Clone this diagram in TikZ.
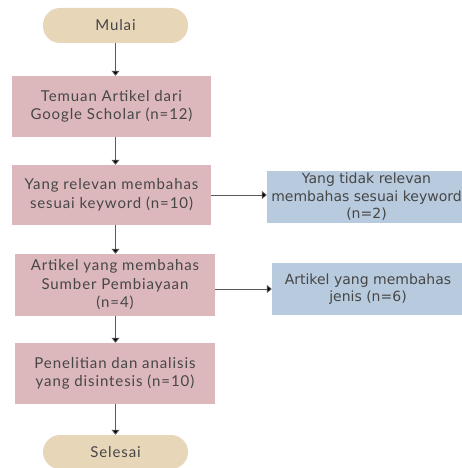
\documentclass[tikz,border=0pt]{standalone}
\usepackage{fontspec}
\setmainfont{Lato}[LetterSpace=6]
\newfontfamily\bluefont{DejaVu Sans}
\usetikzlibrary{arrows.meta}
\definecolor{pinkbox}{RGB}{220,184,189}
\definecolor{beigebox}{RGB}{232,214,185}
\definecolor{bluebox}{RGB}{184,203,222}
\definecolor{txt}{RGB}{70,70,70}
\begin{document}
\begin{tikzpicture}[x=1pt,y=-1pt,
  pinkstep/.style={fill=pinkbox,draw=none,text=txt,align=center,inner sep=0pt,font=\fontsize{15}{18.5}\selectfont},
  bluestep/.style={fill=bluebox,draw=none,text=txt,align=center,inner sep=0pt,font=\bluefont\fontsize{14}{17.5}\selectfont},
  termstep/.style={fill=beigebox,draw=none,text=txt,rounded corners=17pt,inner sep=0pt,font=\fontsize{15}{18}\selectfont},
  conn/.style={draw=black!65,line width=0.8pt,-{Triangle[length=5pt,width=8pt,fill=black]}}]
\useasboundingbox (0,0) rectangle (462,468);
\fill[white] (0,0) rectangle (462,468);
\node[termstep,minimum width=145pt,minimum height=35pt] (start) at (115.5,25.5) {Mulai};
\node[pinkstep,minimum width=199pt,minimum height=61pt] (b1) at (111.5,106.5) {Temuan Artikel dari\\Google Scholar (n=12)};
\node[pinkstep,minimum width=199pt,minimum height=60pt] (b2) at (111.5,195) {Yang relevan membahas\\sesuai keyword (n=10)};
\node[pinkstep,minimum width=200pt,minimum height=62pt] (b3) at (115,285) {Artikel yang membahas\\Sumber Pembiayaan\\(n=4)};
\node[pinkstep,minimum width=200pt,minimum height=61pt] (b4) at (115,373.5) {Penelitian dan analisis\\yang disintesis (n=10)};
\node[termstep,minimum width=145pt,minimum height=34pt] (end) at (115.5,452) {Selesai};
\node[bluestep,minimum width=199pt,minimum height=52pt] (r1) at (366.5,197) {Yang tidak relevan\\membahas sesuai keyword\\(n=2)};
\node[bluestep,minimum width=192pt,minimum height=52pt] (r2) at (368,289) {Artikel yang membahas\\jenis (n=6)};
\draw[conn] (start.south) -- (b1.north -| start.south);
\draw[conn] (b1.south -| start.south) -- (b2.north -| start.south);
\draw[conn] (b2.south -| start.south) -- (b3.north -| start.south);
\draw[conn] (b3.south -| start.south) -- (b4.north -| start.south);
\draw[conn] (b4.south -| start.south) -- (end.north);
\draw[conn] (b2.east) -- (r1.west |- b2.east);
\draw[conn] (b3.east |- r2.west) -- (r2.west);
\end{tikzpicture}
\end{document}
